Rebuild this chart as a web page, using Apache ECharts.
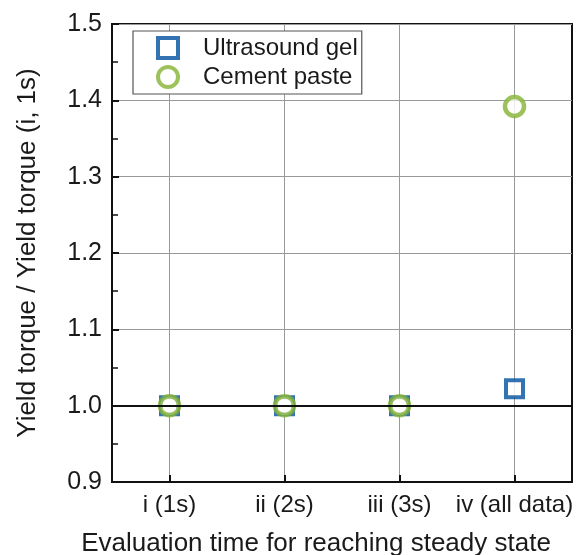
<!DOCTYPE html>
<html><head><meta charset="utf-8">
<script src="https://cdn.jsdelivr.net/npm/echarts@6/dist/echarts.min.js"></script>
<style>html,body{margin:0;padding:0;background:#fff}#c{width:584px;height:555px}</style>
</head><body><div id="c"></div>
<script>
const categories = ['i (1s)', 'ii (2s)', 'iii (3s)', 'iv (all data)'];
const ultrasoundGel = [1.0, 1.0, 1.0, 1.022];
const cementPaste = [1.0, 1.0, 1.0, 1.392];
const yMin = 0.9, yMax = 1.5, yStep = 0.1;
const refValue = 1.0;

const chart = echarts.init(document.getElementById('c'), null, {renderer: 'canvas'});
const font = 'Liberation Sans, Arial, sans-serif';
const txt = '#1a1a1a';
chart.setOption({
  animation: false,
  grid: {left: 112, right: 12, top: 24, bottom: 73, containLabel: false, outerBoundsMode: 'none',
    show: true, borderColor: '#111', borderWidth: 2, backgroundColor: 'transparent'},
  legend: {
    orient: 'vertical', left: 133, top: 31, padding: [5, 4, 5, 23],
    borderColor: '#555', borderWidth: 1.2, backgroundColor: '#fff',
    itemWidth: 20, itemHeight: 20, itemGap: 5,
    itemStyle: {borderWidth: 4},
    textStyle: {fontFamily: font, fontSize: 24, color: txt, padding: [0, 0, 0, 20]},
    data: ['Ultrasound gel', 'Cement paste']
  },
  xAxis: {
    type: 'category', data: categories, boundaryGap: true,
    name: 'Evaluation time for reaching steady state', nameLocation: 'middle', nameGap: 49,
    nameTextStyle: {fontFamily: font, fontSize: 26, color: txt, padding: [0, 52, 0, 0]},
    axisLine: {show: true, lineStyle: {color: '#111', width: 2}},
    axisTick: {show: true, inside: true, alignWithLabel: true, length: 7, lineStyle: {color: '#111', width: 2}},
    axisLabel: {fontFamily: font, fontSize: 24, color: txt, margin: 11, interval: 0},
    splitLine: {show: true, interval: 0, alignWithLabel: true, lineStyle: {color: '#999', width: 1}}
  },
  yAxis: {
    type: 'value', min: yMin, max: yMax, interval: yStep,
    name: 'Yield torque / Yield torque (i, 1s)', nameLocation: 'middle', nameGap: 71,
    nameTextStyle: {fontFamily: font, fontSize: 26, color: txt},
    axisLine: {show: true, lineStyle: {color: '#111', width: 2}},
    axisTick: {show: true, inside: true, length: 7, lineStyle: {color: '#111', width: 2}},
    minorTick: {show: true, splitNumber: 2, length: 6, lineStyle: {color: '#111', width: 1.5}},
    axisLabel: {fontFamily: font, fontSize: 25, color: txt, margin: 10, formatter: v => v.toFixed(1)},
    splitLine: {show: true, lineStyle: {color: '#999', width: 1}}
  },
  series: [
    {
      name: 'Ultrasound gel', type: 'scatter', data: ultrasoundGel,
      symbol: 'rect', symbolSize: 17,
      itemStyle: {color: '#fff', borderColor: '#00509e', borderWidth: 4},
      markLine: {silent: true, symbol: 'none', label: {show: false},
        lineStyle: {color: '#111', width: 2, type: 'solid'}, data: [{yAxis: refValue}]},
      z: 3
    },
    {
      name: 'Cement paste', type: 'scatter', data: cementPaste,
      symbol: 'circle', symbolSize: 19,
      itemStyle: {color: '#fff', borderColor: '#84b332', borderWidth: 4.5},
      z: 4
    }
  ]
});
</script></body></html>
